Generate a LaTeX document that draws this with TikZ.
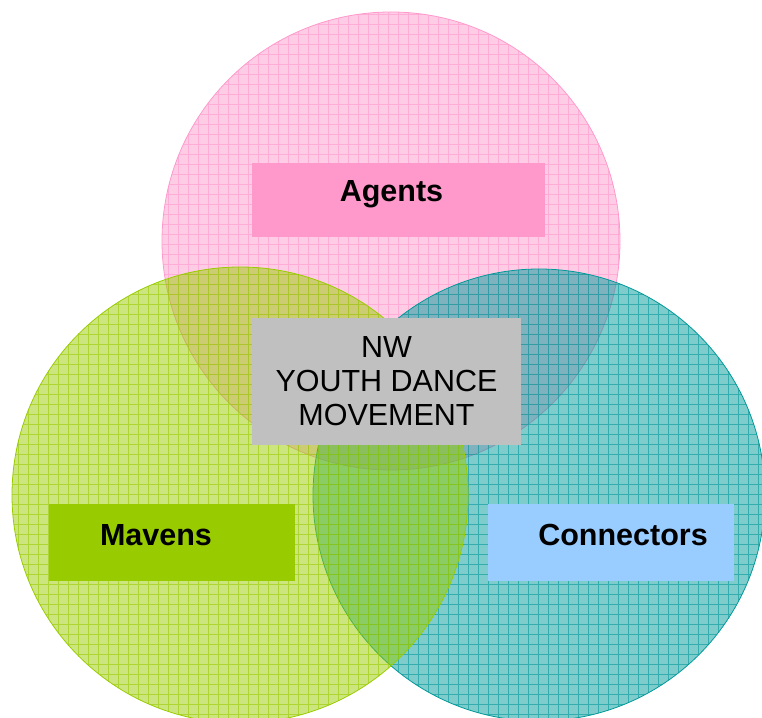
\documentclass[tikz,border=0pt]{standalone}
\usepackage{fontspec}
\setmainfont{Liberation Sans}
\usepackage{tikz}
\definecolor{agentpink}{HTML}{FF99CC}
\definecolor{mavengreen}{HTML}{99CC00}
\definecolor{connteal}{HTML}{009999}
\definecolor{connblue}{HTML}{99CCFF}
\definecolor{movegray}{HTML}{C0C0C0}
\newcommand{\gridcircle}[3]{%
\fill[#3, fill opacity=0.5] #1 circle (#2);
\begin{scope}
\clip #1 circle (#2);
\draw[#3, draw opacity=0.6, line width=0.75pt, xshift=8pt, yshift=3pt, step=10] (-20,-20) grid (780,740);
\end{scope}
\draw[#3, line width=0.8pt] #1 circle (#2);}

\begin{document}
\begin{tikzpicture}[x=1pt,y=1pt,
  tag/.style={inner sep=0pt, minimum width=246, minimum height=77},
  tagtext/.style={font=\fontsize{30.5}{34}\selectfont\bfseries, inner sep=0pt}]
\useasboundingbox (0,0) rectangle (762,717);
\gridcircle{(391,476)}{229}{agentpink}
\gridcircle{(539,222)}{226}{connteal}
\gridcircle{(240,222)}{228}{mavengreen}
\node[tag, fill=agentpink, minimum width=293, minimum height=74] (agents) at (398.5,517) {};
\node[tagtext] (agentstext) at ([xshift=-7,yshift=6]agents.center) {Agents};
\node[tag, fill=mavengreen] (mavens) at (172,174.5) {};
\node[tagtext] (mavenstext) at ([xshift=-16,yshift=7.5]mavens.center) {Mavens};
\node[tag, fill=connblue] (conn) at (611,174.5) {};
\node[tagtext] (conntext) at ([xshift=12,yshift=7.5]conn.center) {Connectors};
\node[fill=movegray, inner sep=0pt, minimum width=269, minimum height=127, align=center,
  font=\fontsize{30.5}{34}\selectfont] (move) at (386.5,335.5) {NW\\YOUTH DANCE\\MOVEMENT};
\end{tikzpicture}
\end{document}
